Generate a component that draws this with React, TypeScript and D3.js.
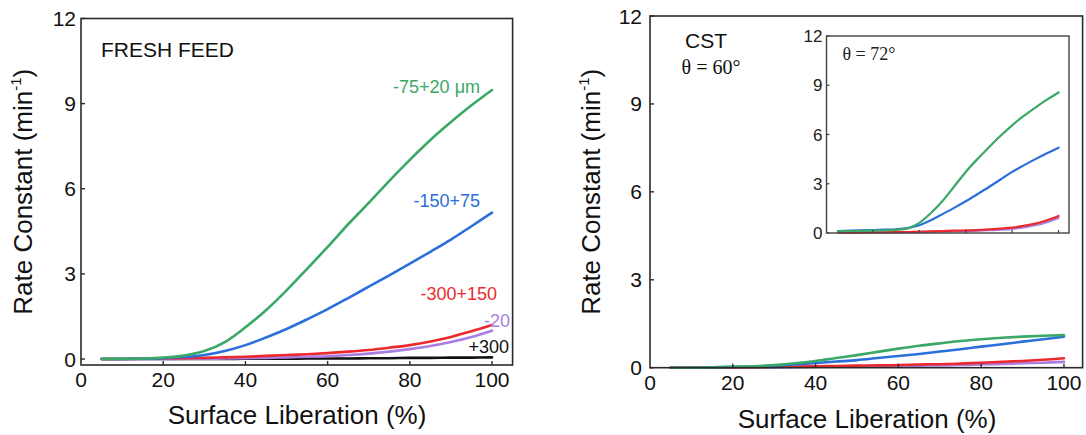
import React from "react";
import * as d3 from "d3";

// Surface liberation (%) sample points shared by every curve
const liberation = [5, 10, 15, 20, 25, 30, 35, 40, 45, 50, 55, 60, 65, 70, 75, 80, 85, 90, 95, 100];

// Fresh feed rate constants (min^-1) by size class
const freshFine = [0, 0.01, 0.02, 0.05, 0.12, 0.28, 0.6, 1.12, 1.72, 2.42, 3.18, 3.95, 4.75, 5.5, 6.28, 7.02, 7.72, 8.35, 8.94, 9.48];
const freshMid = [0, 0, 0.01, 0.03, 0.07, 0.14, 0.28, 0.49, 0.76, 1.06, 1.4, 1.76, 2.15, 2.55, 2.95, 3.36, 3.78, 4.21, 4.68, 5.16];
const freshCoarse = [0, 0, 0.01, 0.02, 0.03, 0.04, 0.06, 0.08, 0.11, 0.14, 0.17, 0.21, 0.26, 0.32, 0.4, 0.49, 0.62, 0.78, 0.98, 1.2];
const freshUltrafine = [0, 0, 0, 0, 0.01, 0.01, 0.02, 0.03, 0.04, 0.06, 0.08, 0.1, 0.14, 0.19, 0.26, 0.35, 0.46, 0.6, 0.78, 1.0];
const freshOversize = [0, 0, 0, 0, 0, 0, 0, 0.01, 0.01, 0.01, 0.02, 0.02, 0.02, 0.03, 0.03, 0.04, 0.04, 0.05, 0.05, 0.06];

// CST, contact angle 60°
const cst60Fine = [0, 0, 0.01, 0.03, 0.05, 0.09, 0.15, 0.23, 0.33, 0.43, 0.54, 0.65, 0.75, 0.83, 0.91, 0.97, 1.02, 1.06, 1.09, 1.11];
const cst60Mid = [0, 0, 0.01, 0.03, 0.04, 0.07, 0.11, 0.16, 0.21, 0.26, 0.33, 0.4, 0.47, 0.55, 0.63, 0.72, 0.8, 0.89, 0.97, 1.06];
const cst60Coarse = [0, 0, 0, 0.01, 0.02, 0.03, 0.04, 0.05, 0.06, 0.07, 0.08, 0.09, 0.11, 0.12, 0.14, 0.17, 0.2, 0.23, 0.27, 0.32];
const cst60Ultrafine = [0, 0, 0, 0, 0.01, 0.01, 0.02, 0.03, 0.03, 0.04, 0.05, 0.06, 0.07, 0.08, 0.09, 0.11, 0.13, 0.15, 0.17, 0.2];

// CST, contact angle 72°
const cst72Fine = [0.1, 0.12, 0.13, 0.14, 0.16, 0.19, 0.28, 0.62, 1.22, 1.95, 2.83, 3.72, 4.5, 5.22, 5.92, 6.56, 7.13, 7.64, 8.12, 8.56];
const cst72Mid = [0.12, 0.14, 0.16, 0.18, 0.2, 0.23, 0.3, 0.47, 0.78, 1.15, 1.53, 1.93, 2.36, 2.8, 3.26, 3.72, 4.12, 4.5, 4.86, 5.2];
const cst72Coarse = [0.02, 0.02, 0.03, 0.03, 0.04, 0.05, 0.06, 0.08, 0.1, 0.12, 0.14, 0.16, 0.18, 0.22, 0.27, 0.33, 0.43, 0.57, 0.78, 1.04];
const cst72Ultrafine = [0.02, 0.02, 0.02, 0.03, 0.03, 0.04, 0.05, 0.05, 0.07, 0.09, 0.1, 0.12, 0.14, 0.17, 0.2, 0.25, 0.34, 0.47, 0.66, 0.91];

const yTicks = [0, 3, 6, 9, 12];
const xTicks = [0, 20, 40, 60, 80, 100];

const GREEN = "#3aa866";
const BLUE = "#2a6fdc";
const RED = "#ea2a2e";
const PURPLE = "#a97de2";
const BLACK = "#111111";

const SANS = "'Liberation Sans', Arial, sans-serif";
const SERIF = "'Liberation Serif', 'Times New Roman', serif";

type Series = { values: number[]; color: string };

type Frame = {
  x0: number; x1: number; y0: number; y1: number;
  xMax: number; yMin: number; yMax: number;
};

function Curves({ sx, sy, series, width }: { sx: d3.ScaleLinear<number, number>; sy: d3.ScaleLinear<number, number>; series: Series[]; width: number }) {
  const line = d3
    .line<number>()
    .x((_, i) => sx(liberation[i]))
    .y((v) => sy(v))
    .curve(d3.curveCatmullRom.alpha(0.5));
  return (
    <g>
      {series.map((s, i) => (
        <path key={i} d={line(s.values) || ""} fill="none" stroke={s.color} strokeWidth={width} strokeLinecap="round" strokeLinejoin="round" />
      ))}
    </g>
  );
}

function MainPanel({ f, series, titleX, titleBaseline, yTitleX, yLabelRight, xLabelBaseline, children }: {
  f: Frame; series: Series[]; titleX: number; titleBaseline: number; yTitleX: number; yLabelRight: number; xLabelBaseline: number; children?: React.ReactNode;
}) {
  const sx = d3.scaleLinear().domain([0, f.xMax]).range([f.x0, f.x1]);
  const sy = d3.scaleLinear().domain([f.yMin, f.yMax]).range([f.y1, f.y0]);
  const cy = (f.y0 + f.y1) / 2;
  return (
    <g>
      <Curves sx={sx} sy={sy} series={series} width={2.6} />
      <rect x={f.x0} y={f.y0} width={f.x1 - f.x0} height={f.y1 - f.y0} fill="none" stroke="#2a2a2a" strokeWidth={1.6} />
      {yTicks.map((t) => (
        <g key={"y" + t}>
          <line x1={f.x0} x2={f.x0 + 4} y1={sy(t)} y2={sy(t)} stroke="#2a2a2a" strokeWidth={1.4} />
          <text x={yLabelRight} y={sy(t) + 7.5} textAnchor="end" fontFamily={SANS} fontSize={21} fill="#111">{t}</text>
        </g>
      ))}
      {xTicks.map((t) => (
        <g key={"x" + t}>
          {t > 0 && <line x1={sx(t)} x2={sx(t)} y1={f.y1} y2={f.y1 - 4} stroke="#2a2a2a" strokeWidth={1.4} />}
          <text x={sx(t)} y={xLabelBaseline} textAnchor="middle" fontFamily={SANS} fontSize={21} fill="#111">{t}</text>
        </g>
      ))}
      <text x={titleX} y={titleBaseline} textAnchor="middle" fontFamily={SANS} fontSize={26} fill="#111">Surface Liberation (%)</text>
      <text transform={`translate(${yTitleX},${cy}) rotate(-90)`} textAnchor="middle" fontFamily={SANS} fontSize={26} fill="#111">
        Rate Constant (min<tspan fontSize={15} dy={-11}>-1</tspan><tspan dy={11}>)</tspan>
      </text>
      {children}
    </g>
  );
}

function Inset({ f, series }: { f: Frame; series: Series[] }) {
  const sx = d3.scaleLinear().domain([0, f.xMax]).range([f.x0, f.x1]);
  const sy = d3.scaleLinear().domain([f.yMin, f.yMax]).range([f.y1, f.y0]);
  return (
    <g>
      <rect x={f.x0} y={f.y0} width={f.x1 - f.x0} height={f.y1 - f.y0} fill="#fff" />
      <Curves sx={sx} sy={sy} series={series} width={2.2} />
      <rect x={f.x0} y={f.y0} width={f.x1 - f.x0} height={f.y1 - f.y0} fill="none" stroke="#444" strokeWidth={1.4} />
      {yTicks.map((t) => (
        <g key={"iy" + t}>
          <line x1={f.x0} x2={f.x0 + 3} y1={sy(t)} y2={sy(t)} stroke="#444" strokeWidth={1.2} />
          <text x={f.x0 - 4} y={sy(t) + 6} textAnchor="end" fontFamily={SANS} fontSize={17} fill="#222">{t}</text>
        </g>
      ))}
      {xTicks.filter((t) => t > 0).map((t) => (
        <line key={"ix" + t} x1={sx(t)} x2={sx(t)} y1={f.y1} y2={f.y1 - 3} stroke="#444" strokeWidth={1.2} />
      ))}
      <text x={f.x0 + 16} y={f.y0 + 24} fontFamily={SERIF} fontSize={18} fill="#222">θ = 72°</text>
    </g>
  );
}

export default function App() {
  const leftFrame: Frame = { x0: 81, x1: 512.6, y0: 18.5, y1: 365, xMax: 105, yMin: -0.21, yMax: 12 };
  const rightFrame: Frame = { x0: 650, x1: 1082.6, y0: 16, y1: 367.7, xMax: 104.5, yMin: 0, yMax: 12 };
  const insetFrame: Frame = { x0: 826.5, x1: 1069, y0: 36, y1: 233, xMax: 104.5, yMin: 0, yMax: 12 };

  const freshSeries: Series[] = [
    { values: freshOversize, color: BLACK },
    { values: freshUltrafine, color: PURPLE },
    { values: freshCoarse, color: RED },
    { values: freshMid, color: BLUE },
    { values: freshFine, color: GREEN },
  ];
  const cst60Series: Series[] = [
    { values: cst60Ultrafine, color: PURPLE },
    { values: cst60Coarse, color: RED },
    { values: cst60Mid, color: BLUE },
    { values: cst60Fine, color: GREEN },
  ];
  const cst72Series: Series[] = [
    { values: cst72Ultrafine, color: PURPLE },
    { values: cst72Coarse, color: RED },
    { values: cst72Mid, color: BLUE },
    { values: cst72Fine, color: GREEN },
  ];

  return (
    <svg width={1086} height={435} style={{ display: "block", position: "absolute", left: 0, top: 0, background: "#fff" }}>
      <rect width={1086} height={435} fill="#fff" />
      <MainPanel f={leftFrame} series={freshSeries} titleX={297} titleBaseline={424} yTitleX={32} yLabelRight={76} xLabelBaseline={387}>
        <text x={101} y={57} fontFamily={SANS} fontSize={21} fill="#111">FRESH FEED</text>
        <text x={480} y={93} textAnchor="end" fontFamily={SANS} fontSize={18} fill={GREEN}>-75+20 μm</text>
        <text x={480} y={207} textAnchor="end" fontFamily={SANS} fontSize={18} fill={BLUE}>-150+75</text>
        <text x={497} y={300} textAnchor="end" fontFamily={SANS} fontSize={18} fill={RED}>-300+150</text>
        <text x={510} y={327} textAnchor="end" fontFamily={SANS} fontSize={18} fill={PURPLE}>-20</text>
        <text x={509} y={353} textAnchor="end" fontFamily={SANS} fontSize={18} fill={BLACK}>+300</text>
      </MainPanel>
      <MainPanel f={rightFrame} series={cst60Series} titleX={867} titleBaseline={428} yTitleX={600} yLabelRight={642} xLabelBaseline={390}>
        <text x={706} y={48} textAnchor="middle" fontFamily={SANS} fontSize={21} fill="#111">CST</text>
        <text x={711} y={74} textAnchor="middle" fontFamily={SERIF} fontSize={20} fill="#111">θ = 60°</text>
        <Inset f={insetFrame} series={cst72Series} />
      </MainPanel>
    </svg>
  );
}
